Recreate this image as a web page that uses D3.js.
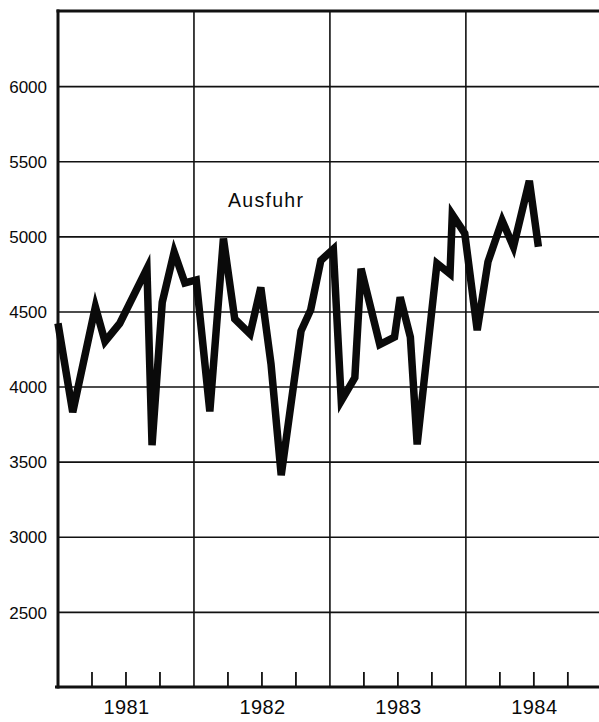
<!DOCTYPE html>
<html>
<head>
<meta charset="utf-8">
<script src="https://cdn.jsdelivr.net/npm/d3@7"></script>
<style>
  body { margin: 0; background: #fff; }
  svg { display: block; font-family: "Liberation Sans", Arial, sans-serif; }
  .grid line { stroke: #111; stroke-width: 1.6; }
  .grid .domain { display: none; }
  .ylab text { font-size: 17px; fill: #0a0a0a; }
  .xlab text { font-size: 20px; fill: #0a0a0a; letter-spacing: 0.4px; }
  .qticks line { stroke: #111; stroke-width: 1.8; }
</style>
</head>
<body>
<script>
// months since Jan 1981 and export values
const monthPos = [0, 1.3, 3.3, 4.15, 5.45, 7.85, 8.3, 9.2, 10.25, 11.2, 12.2, 13.4, 14.6, 15.6,
  16.95, 17.9, 18.8, 19.7, 21.45, 22.3, 23.2, 24.3, 25, 26.2, 26.75, 28.4, 29.7, 30.2, 31.1,
  31.7, 33.45, 34.6, 34.8, 35.9, 37, 37.95, 39.2, 40.2, 41.6, 42.4];
const ausfuhr = [4420, 3830, 4530, 4300, 4420, 4785, 3610, 4560, 4895, 4690, 4710, 3835, 4985, 4450,
  4350, 4660, 4150, 3410, 4370, 4510, 4840, 4915, 3905, 4060, 4785, 4280, 4330, 4595, 4330,
  3615, 4820, 4750, 5145, 5020, 4375, 4830, 5105, 4930, 5370, 4930];
const yTicks = [2500, 3000, 3500, 4000, 4500, 5000, 5500, 6000];
const years = ['1981', '1982', '1983', '1984'];
const seriesLabel = 'Ausfuhr';

const W = 599, H = 722;
const margin = { top: 11, right: 0, bottom: 35, left: 58 };
const right = W;
const bottom = H - margin.bottom;

const svg = d3.select('body').append('svg')
  .attr('width', W)
  .attr('height', H);

const x = d3.scaleLinear().domain([0, 48]).range([margin.left, margin.left + 48 * 11.33]);
const y = d3.scaleLinear().domain([2000, 6500]).range([bottom, margin.top]);

// horizontal grid + value labels
svg.append('g')
  .attr('class', 'grid ylab')
  .attr('transform', `translate(${margin.left},0)`)
  .call(d3.axisLeft(y).tickValues(yTicks).tickSize(-(right - margin.left)).tickPadding(11).tickFormat(d3.format('d')))
  .call(g => g.selectAll('text').attr('dy', '0.36em'));

// year grid lines
svg.append('g')
  .attr('class', 'grid')
  .selectAll('line')
  .data([12, 24, 36])
  .join('line')
  .attr('x1', d => x(d)).attr('x2', d => x(d))
  .attr('y1', y(6500)).attr('y2', y(2000));

// quarter ticks
const quarters = d3.range(3, 48, 3).filter(d => d % 12 !== 0);
svg.append('g')
  .attr('class', 'qticks')
  .selectAll('line')
  .data(quarters)
  .join('line')
  .attr('x1', d => x(d)).attr('x2', d => x(d))
  .attr('y1', bottom).attr('y2', bottom - 15);

// year labels
svg.append('g')
  .attr('class', 'xlab')
  .attr('transform', `translate(0,${bottom})`)
  .call(d3.axisBottom(x).tickValues([6, 18, 30, 42]).tickSize(0).tickPadding(13)
    .tickFormat((d, i) => years[i]))
  .call(g => g.select('.domain').remove());

// frame: top, left, bottom
const frame = svg.append('g').attr('stroke', '#111').attr('fill', 'none');
frame.append('line')
  .attr('x1', x(0) - 1.5).attr('x2', right)
  .attr('y1', y(6500)).attr('y2', y(6500))
  .attr('stroke-width', 3);
frame.append('line')
  .attr('x1', x(0)).attr('x2', x(0))
  .attr('y1', y(6500) - 1.5).attr('y2', y(2000) + 1.5)
  .attr('stroke-width', 3);
frame.append('line')
  .attr('x1', x(0) - 3).attr('x2', right)
  .attr('y1', y(2000)).attr('y2', y(2000))
  .attr('stroke-width', 3);

// series
const data = monthPos.map((m, i) => ({ m, v: ausfuhr[i] }));
svg.append('path')
  .datum(data)
  .attr('fill', 'none')
  .attr('stroke', '#0a0a0a')
  .attr('stroke-width', 7.5)
  .attr('stroke-linejoin', 'miter')
  .attr('stroke-miterlimit', 5)
  .attr('d', d3.line().x(d => x(d.m)).y(d => y(d.v)));

svg.append('text')
  .attr('x', x(15.0))
  .attr('y', y(5195))
  .attr('font-size', 19.5)
  .attr('letter-spacing', 1.3)
  .attr('fill', '#0a0a0a')
  .text(seriesLabel);
</script>
</body>
</html>
